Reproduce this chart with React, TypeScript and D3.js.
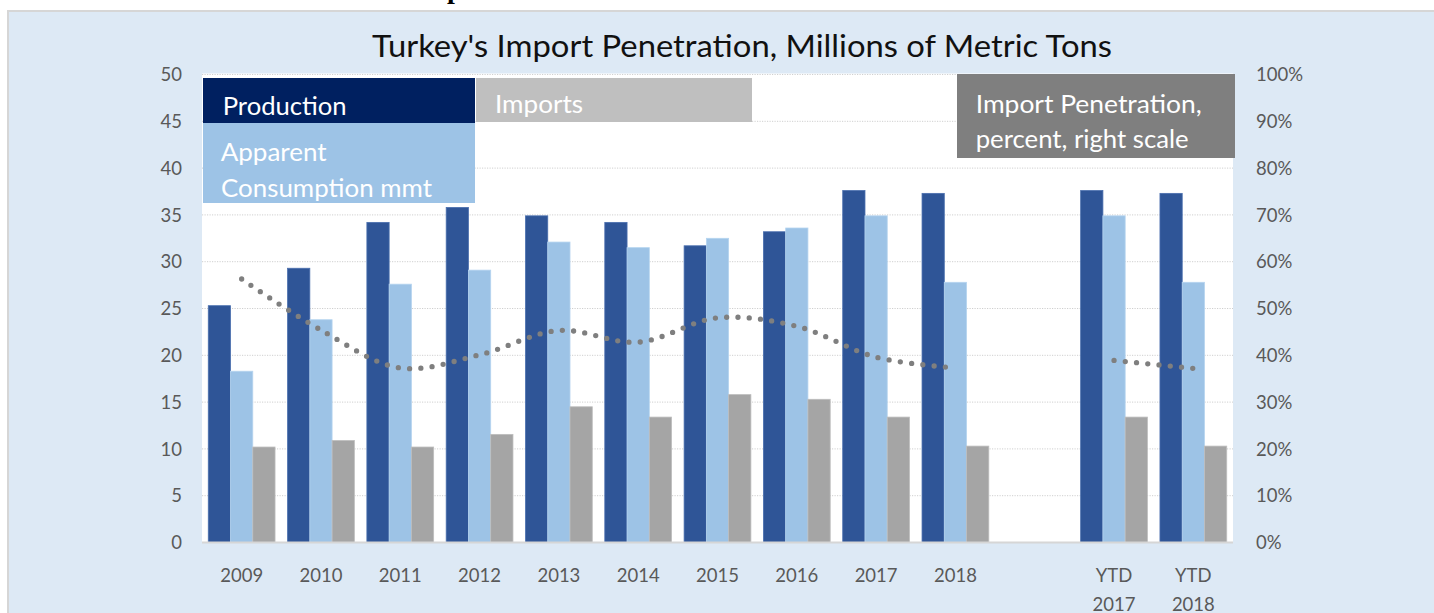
import React, { useEffect } from "react";
import * as d3 from "d3";

const categories = ["2009", "2010", "2011", "2012", "2013", "2014", "2015", "2016", "2017", "2018", "", "YTD 2017", "YTD 2018"];
const production = [25.3, 29.3, 34.2, 35.8, 34.9, 34.2, 31.7, 33.2, 37.6, 37.3, null, 37.6, 37.3];
const consumption = [18.3, 23.8, 27.6, 29.1, 32.1, 31.5, 32.5, 33.6, 34.9, 27.8, null, 34.9, 27.8];
const imports = [10.2, 10.9, 10.2, 11.55, 14.5, 13.4, 15.8, 15.3, 13.4, 10.3, null, 13.4, 10.3];
const penetration = [56.3, 45.4, 37.3, 40.1, 45.3, 42.8, 48.0, 46.2, 39.6, 37.3, null, 38.9, 37.2];
const leftTicks = [0, 5, 10, 15, 20, 25, 30, 35, 40, 45, 50];
const rightTicks = [0, 10, 20, 30, 40, 50, 60, 70, 80, 90, 100];

const W = 1434;
const H = 613;
const font = "Lato, 'Open Sans', sans-serif";

export default function App() {
  useEffect(() => {
    document.documentElement.style.overflow = "hidden";
    document.body.style.margin = "0";
    document.body.style.overflow = "hidden";
  }, []);

  const plot = { left: 202, right: 1233, top: 74.5, bottom: 542.5 };

  const x = d3.scaleBand<string>().domain(categories).range([plot.left, plot.right]).paddingInner(0.158).paddingOuter(0.079);
  const series = [
    { name: "production", values: production, color: "#2f5597", edge: "#4a6fae" },
    { name: "consumption", values: consumption, color: "#9dc3e6", edge: "#b6d4ef" },
    { name: "imports", values: imports, color: "#a5a5a5", edge: "#bdbdbd" },
  ];
  const inner = d3.scaleBand<string>().domain(series.map((s) => s.name)).range([0, x.bandwidth()]);
  const yL = d3.scaleLinear().domain([0, 50]).range([plot.bottom, plot.top]);
  const yR = d3.scaleLinear().domain([0, 100]).range([plot.bottom, plot.top]);

  const line = d3
    .line<number | null>()
    .defined((d) => d != null)
    .x((_, i) => (x(categories[i]) as number) + x.bandwidth() / 2)
    .y((d) => yR(d as number))
    .curve(d3.curveCatmullRom.alpha(0.5));

  return (
    <div style={{ position: "fixed", left: 0, top: 0, width: W, height: H, overflow: "hidden", background: "#fff" }}>
      <svg width={W} height={H} style={{ display: "block" }}>
        {/* cut-off heading above the chart */}
        <text x={447} y={-2} fontFamily="'Liberation Serif', serif" fontWeight="bold" fontSize={28} fill="#000">p</text>

        <rect x={8} y={11} width={W + 20} height={H + 20} fill="#dde9f5" stroke="#d6d6d6" strokeWidth={2} />

        <text x={372} y={57} fontFamily={font} fontSize={30} fill="#111" textLength={740} lengthAdjust="spacingAndGlyphs">
          Turkey's Import Penetration, Millions of Metric Tons
        </text>

        <rect x={plot.left} y={plot.top - 1} width={plot.right - plot.left} height={plot.bottom - plot.top + 1} fill="#fff" />

        {leftTicks.filter((t) => t > 0).map((t) => (
          <line key={t} x1={plot.left} x2={plot.right} y1={yL(t)} y2={yL(t)} stroke="#cfcfcf" strokeWidth={1} strokeDasharray="1.2 1.3" />
        ))}

        {categories.map((c, i) =>
          series.map((s) => {
            const v = s.values[i];
            if (v == null) return null;
            return (
              <rect
                key={c + s.name}
                x={(x(c) as number) + (inner(s.name) as number)}
                y={yL(v)}
                width={inner.bandwidth()}
                height={yL(0) - yL(v)}
                fill={s.color}
                stroke={s.edge}
                strokeWidth={0.8}
              />
            );
          })
        )}

        <line x1={plot.left} x2={plot.right} y1={plot.bottom} y2={plot.bottom} stroke="#d6d6d6" strokeWidth={2} />

        <path d={line(penetration) || ""} fill="none" stroke="#7f7f7f" strokeWidth={5.3} strokeLinecap="round" strokeDasharray="0 11.3" />

        {leftTicks.map((t) => (
          <text key={t} x={182} y={yL(t)} dy="0.36em" textAnchor="end" fontFamily={font} fontSize={18.5} fill="#595959">{t}</text>
        ))}
        {rightTicks.map((t) => (
          <text key={t} x={1256} y={yR(t)} dy="0.36em" fontFamily={font} fontSize={18.5} fill="#595959">{t}%</text>
        ))}
        {categories.map((c) =>
          c.split(" ").map((part, j) => (
            <text key={c + j} x={(x(c) as number) + x.bandwidth() / 2} y={581.5 + j * 29} textAnchor="middle" fontFamily={font} fontSize={18.5} fill="#595959">{part}</text>
          ))
        )}

        {/* legend boxes */}
        <rect x={203} y={78} width={272} height={45} fill="#002060" />
        <text x={222.7} y={115} fontFamily={font} fontSize={25} fill="#fff" textLength={124} lengthAdjust="spacingAndGlyphs">Production</text>
        <rect x={476} y={78} width={276} height={44} fill="#bfbfbf" />
        <text x={495} y={112.7} fontFamily={font} fontSize={25} fill="#fff" textLength={88} lengthAdjust="spacingAndGlyphs">Imports</text>
        <rect x={203} y={123} width={272} height={80} fill="#9dc3e6" />
        <text x={220.7} y={161} fontFamily={font} fontSize={25} fill="#fff" textLength={106} lengthAdjust="spacingAndGlyphs">Apparent</text>
        <text x={221} y={196.7} fontFamily={font} fontSize={25} fill="#fff" textLength={211} lengthAdjust="spacingAndGlyphs">Consumption mmt</text>
        <rect x={957} y={74} width={278} height={84} fill="#7f7f7f" />
        <text x={975.7} y={112.7} fontFamily={font} fontSize={25} fill="#fff" textLength={226} lengthAdjust="spacingAndGlyphs">Import Penetration,</text>
        <text x={975.7} y={148.3} fontFamily={font} fontSize={25} fill="#fff" textLength={213} lengthAdjust="spacingAndGlyphs">percent, right scale</text>
      </svg>
    </div>
  );
}
